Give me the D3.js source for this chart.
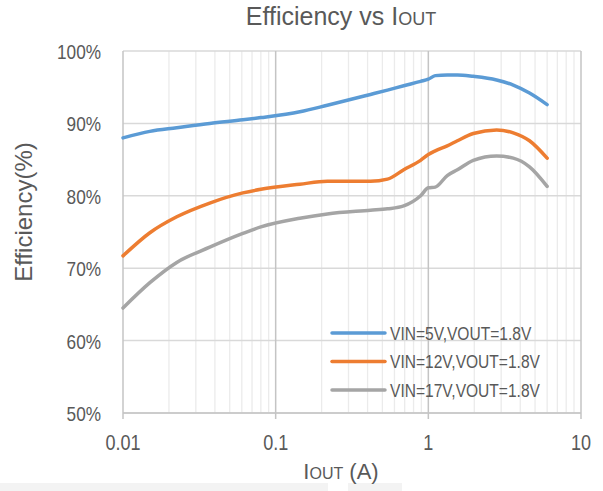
<!DOCTYPE html>
<html>
<head>
<meta charset="utf-8">
<title>Efficiency vs IOUT</title>
<script src="https://cdn.jsdelivr.net/npm/d3@7"></script>
<style>
  html, body { margin: 0; padding: 0; background: #fff; }
  svg { display: block; }
  text { fill: #595959; }
</style>
</head>
<body>
<svg class="main" width="603" height="491"></svg>
<script>
// data
var iout = [0.01, 0.015, 0.0225, 0.037, 0.061, 0.08, 0.144, 0.218, 0.418, 0.54, 0.69, 0.89, 1.0, 1.11, 1.33, 1.55, 1.97, 2.8, 3.6, 4.6, 6.0];
var eff5V  = [88.0, 88.9, 89.4, 90.0, 90.5, 90.8, 91.6, 92.5, 94.0, 94.6, 95.2, 95.8, 96.1, 96.6, 96.7, 96.7, 96.5, 96.0, 95.3, 94.2, 92.6];
var eff12V = [71.7, 74.9, 77.1, 79.0, 80.4, 80.9, 81.6, 82.0, 82.0, 82.3, 83.6, 84.9, 85.7, 86.2, 86.9, 87.6, 88.6, 89.1, 88.7, 87.6, 85.2];
var eff17V = [64.5, 68.0, 70.8, 72.9, 74.8, 75.7, 76.9, 77.5, 78.0, 78.2, 78.6, 80.0, 81.1, 81.2, 82.8, 83.6, 84.9, 85.5, 85.2, 84.0, 81.3];
var seriesNames = ["VIN=5V,VOUT=1.8V", "VIN=12V,VOUT=1.8V", "VIN=17V,VOUT=1.8V"];
var seriesColors = ["#5b9bd5", "#ed7d31", "#a5a5a5"];
var xTicks = [0.01, 0.1, 1, 10];
var yTicks = [50, 60, 70, 80, 90, 100];

var svg = d3.select("svg");

// narrow font check: fall back to squeezing the normal one
var probe = svg.append("text").style("font-family", "'Liberation Sans Narrow', monospace").style("font-size", "20px").text("VIN=5V,VOUT");
var probe2 = svg.append("text").style("font-family", "monospace").style("font-size", "20px").text("VIN=5V,VOUT");
var hasNarrow = probe.node().getComputedTextLength() != probe2.node().getComputedTextLength();
probe.remove(); probe2.remove();
var narrowFam = hasNarrow ? "'Liberation Sans Narrow', 'Arial Narrow', sans-serif" : "'Liberation Sans', Arial, sans-serif";
var squeeze = hasNarrow ? 1 : 0.82;
var wideFam = "'Liberation Sans', Arial, sans-serif";

function label(g, x, y, str, size, anchor, wide) {
    var t = g.append("text")
        .attr("transform", "translate(" + x + "," + y + ")" + (wide ? "" : " scale(" + squeeze + ",1)"))
        .style("font-family", wide ? wideFam : narrowFam)
        .style("font-size", size + "px")
        .attr("text-anchor", anchor || "start");
    t.text(str);
    return t;
}

var mLeft = 123, mRight = 581, mTop = 51, mBottom = 413;
var x = d3.scaleLog().domain([0.01, 10]).range([mLeft, mRight]);
var y = d3.scaleLinear().domain([50, 100]).range([mBottom, mTop]);

// faint strip at the very bottom of the picture
svg.append("rect").attr("x", 0).attr("y", 483).attr("width", 328).attr("height", 8).attr("fill", "#f3f3f3");
svg.append("rect").attr("x", 348).attr("y", 483).attr("width", 54).attr("height", 8).attr("fill", "#f3f3f3");

var grid = svg.append("g");
// minor vertical grid
var minor = [];
[0.01, 0.1, 1].forEach(function (d) {
    for (var k = 2; k <= 9; k++) minor.push(d * k);
});
grid.selectAll("line.minor").data(minor).enter().append("line")
    .attr("x1", function (d) { return x(d); }).attr("x2", function (d) { return x(d); })
    .attr("y1", mTop).attr("y2", mBottom)
    .attr("stroke", "#ebebeb").attr("stroke-width", 1.3);
// horizontal grid
grid.selectAll("line.h").data(yTicks).enter().append("line")
    .attr("x1", mLeft).attr("x2", mRight)
    .attr("y1", function (d) { return y(d); }).attr("y2", function (d) { return y(d); })
    .attr("stroke", "#d9d9d9").attr("stroke-width", 1.5);
// major vertical grid
grid.selectAll("line.major").data(xTicks).enter().append("line")
    .attr("x1", function (d) { return x(d); }).attr("x2", function (d) { return x(d); })
    .attr("y1", mTop).attr("y2", mBottom + 6)
    .attr("stroke", "#c4c4c4").attr("stroke-width", 1.5);
// bottom axis line
grid.append("line").attr("x1", mLeft).attr("x2", mRight).attr("y1", mBottom).attr("y2", mBottom)
    .attr("stroke", "#c4c4c4").attr("stroke-width", 1.5);

// tick labels
var lab = svg.append("g");
yTicks.forEach(function (d) {
    label(lab, 101, y(d) + 8, d + "%", 21, "end");
});
xTicks.forEach(function (d) {
    label(lab, x(d), 450, String(d), 22, "middle");
});

// series
var line = d3.line()
    .x(function (d) { return x(d[0]); })
    .y(function (d) { return y(d[1]); })
    .curve(d3.curveMonotoneX);
[eff5V, eff12V, eff17V].forEach(function (s, i) {
    svg.append("path")
        .datum(iout.map(function (v, j) { return [v, s[j]]; }))
        .attr("fill", "none")
        .attr("stroke", seriesColors[i])
        .attr("stroke-width", 3.5)
        .attr("stroke-linecap", "round")
        .attr("d", line);
});

// legend
var leg = svg.append("g");
seriesNames.forEach(function (n, i) {
    var ly = 333 + i * 28.5;
    leg.append("line").attr("x1", 332).attr("x2", 385).attr("y1", ly).attr("y2", ly)
        .attr("stroke", seriesColors[i]).attr("stroke-width", 3.5).attr("stroke-linecap", "round");
    label(leg, 390, ly + 6.5, n, 19, "start");
});

// title
var title = label(svg, 341, 25, "", 25, "middle", true);
title.append("tspan").text("Efficiency vs I");
title.append("tspan").style("font-size", "18px").text("OUT");

// axis titles
var xt = label(svg, 341, 479, "", 22, "middle", true);
xt.append("tspan").text("I");
xt.append("tspan").style("font-size", "16px").text("OUT");
xt.append("tspan").text(" (A)");

svg.append("text")
    .attr("transform", "translate(32,212) rotate(-90)")
    .style("font-family", wideFam)
    .style("font-size", "24px")
    .attr("text-anchor", "middle")
    .text("Efficiency(%)");
</script>
</body>
</html>
